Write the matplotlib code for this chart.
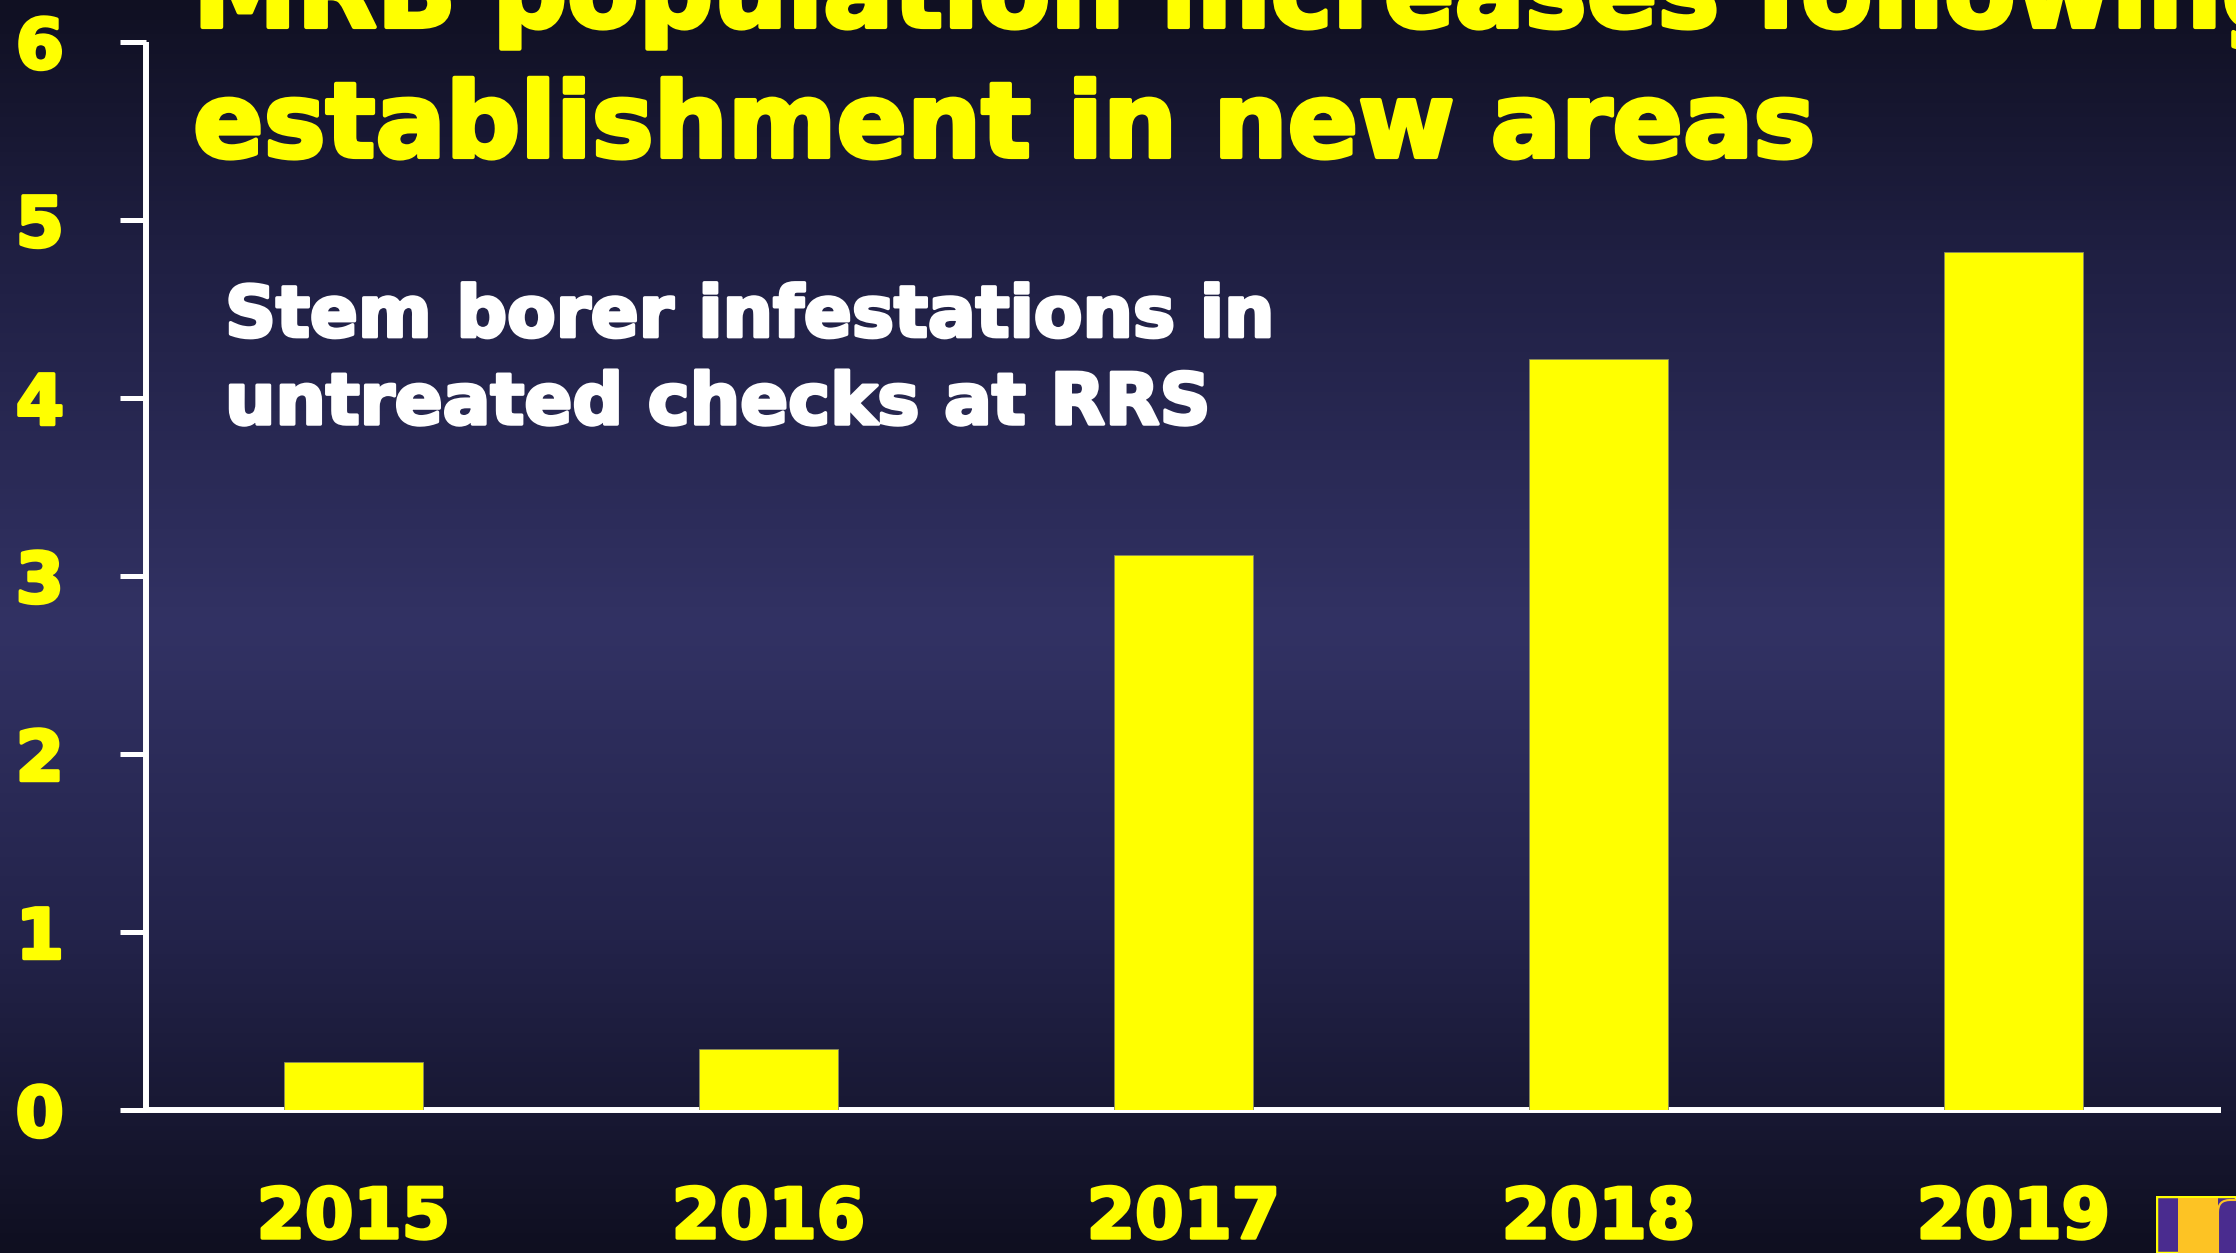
import numpy as np
import matplotlib
matplotlib.use("Agg")
import matplotlib.pyplot as plt
import matplotlib.patheffects as pe
from matplotlib.colors import LinearSegmentedColormap
from matplotlib.patches import Rectangle, FancyBboxPatch

years = ["2015", "2016", "2017", "2018", "2019"]
infestations = [0.27, 0.34, 3.12, 4.22, 4.82]
yticks = [0, 1, 2, 3, 4, 5, 6]

title_1 = "MRB population increases following"
title_2 = "establishment in new areas"
subtitle = "Stem borer infestations in\nuntreated checks at RRS"

YELLOW = "#ffff00"
FONT = ["DejaVu Sans"]

W, H, DPI = 2236, 1253, 100
fig = plt.figure(figsize=(W / DPI, H / DPI), dpi=DPI)


def heavy(color, lw=2.0):
    # thicken the bold glyphs a little
    return [pe.withStroke(linewidth=lw, foreground=color)]


# slide background: dark navy, lighter in the middle
bg = fig.add_axes([0, 0, 1, 1], zorder=-10)
bg_cmap = LinearSegmentedColormap.from_list(
    "slide", [(0.0, "#101022"), (0.2, "#1f1f42"), (0.5, "#323264"),
              (0.75, "#23234a"), (1.0, "#0f0f20")])
grad = np.linspace(0, 1, 256).reshape(-1, 1)
bg.imshow(grad, aspect="auto", cmap=bg_cmap, extent=[0, 1, 0, 1], origin="upper")
bg.set_xlim(0, 1)
bg.set_ylim(0, 1)
bg.axis("off")

ax = fig.add_axes([146 / W, 1 - 1110 / H, 2075 / W, (1110 - 42) / H])
ax.patch.set_alpha(0)
x = np.arange(len(years))
ax.bar(x, infestations, width=0.333, color=YELLOW, edgecolor="#8a8a60",
       linewidth=0.6, zorder=3)
ax.set_xlim(-0.5, len(years) - 0.5)
ax.set_ylim(0, 6)
ax.set_yticks(yticks)
ax.set_xticks(x)
ax.set_xticklabels(years)

for side in ["top", "right"]:
    ax.spines[side].set_visible(False)
for side in ["left", "bottom"]:
    ax.spines[side].set_color("white")
    ax.spines[side].set_linewidth(4.3)
    ax.spines[side].set_capstyle("butt")

ax.tick_params(axis="y", direction="out", length=19, width=3.6, color="white",
               pad=40, labelcolor=YELLOW, labelsize=50)
ax.tick_params(axis="x", length=0, pad=54, labelcolor=YELLOW, labelsize=50)
for lab in ax.get_xticklabels() + ax.get_yticklabels():
    lab.set_fontfamily(FONT)
    lab.set_fontweight("bold")
    lab.set_path_effects(heavy(YELLOW, 2.5))

# slide title, first line runs off the top edge
fig.text(193 / W, 1 - 27 / H, title_1, color=YELLOW, fontsize=75,
         fontweight="bold", family=FONT, va="baseline", ha="left",
         path_effects=heavy(YELLOW, 3))
fig.text(193 / W, 1 - 157 / H, title_2, color=YELLOW, fontsize=75,
         fontweight="bold", family=FONT, va="baseline", ha="left",
         path_effects=heavy(YELLOW, 3))

# va="baseline" pins the last line; linespacing sets the first
fig.text(225 / W, 1 - 424 / H, subtitle, color="white", fontsize=51,
         fontweight="bold", family=FONT, va="baseline", ha="left",
         linespacing=1.34, path_effects=heavy("white", 2.5))

# corner logo
logo = fig.add_axes([2156 / W, 0, (W - 2156) / W, (H - 1196) / H])
logo.set_xlim(0, 80)
logo.set_ylim(0, 57)
logo.axis("off")
logo.add_patch(Rectangle((0, 0), 80, 57, facecolor="#4a2c8f",
                         edgecolor=YELLOW, linewidth=2.5))
logo.add_patch(Rectangle((22, 0), 40, 55, facecolor="#fdc324", linewidth=0))
logo.add_patch(FancyBboxPatch((62, -10), 30, 63,
                              boxstyle="round,pad=0,rounding_size=12",
                              facecolor="#4a2c8f", edgecolor="#fdc324",
                              linewidth=1.5))

fig.savefig("out.png", dpi=DPI)
